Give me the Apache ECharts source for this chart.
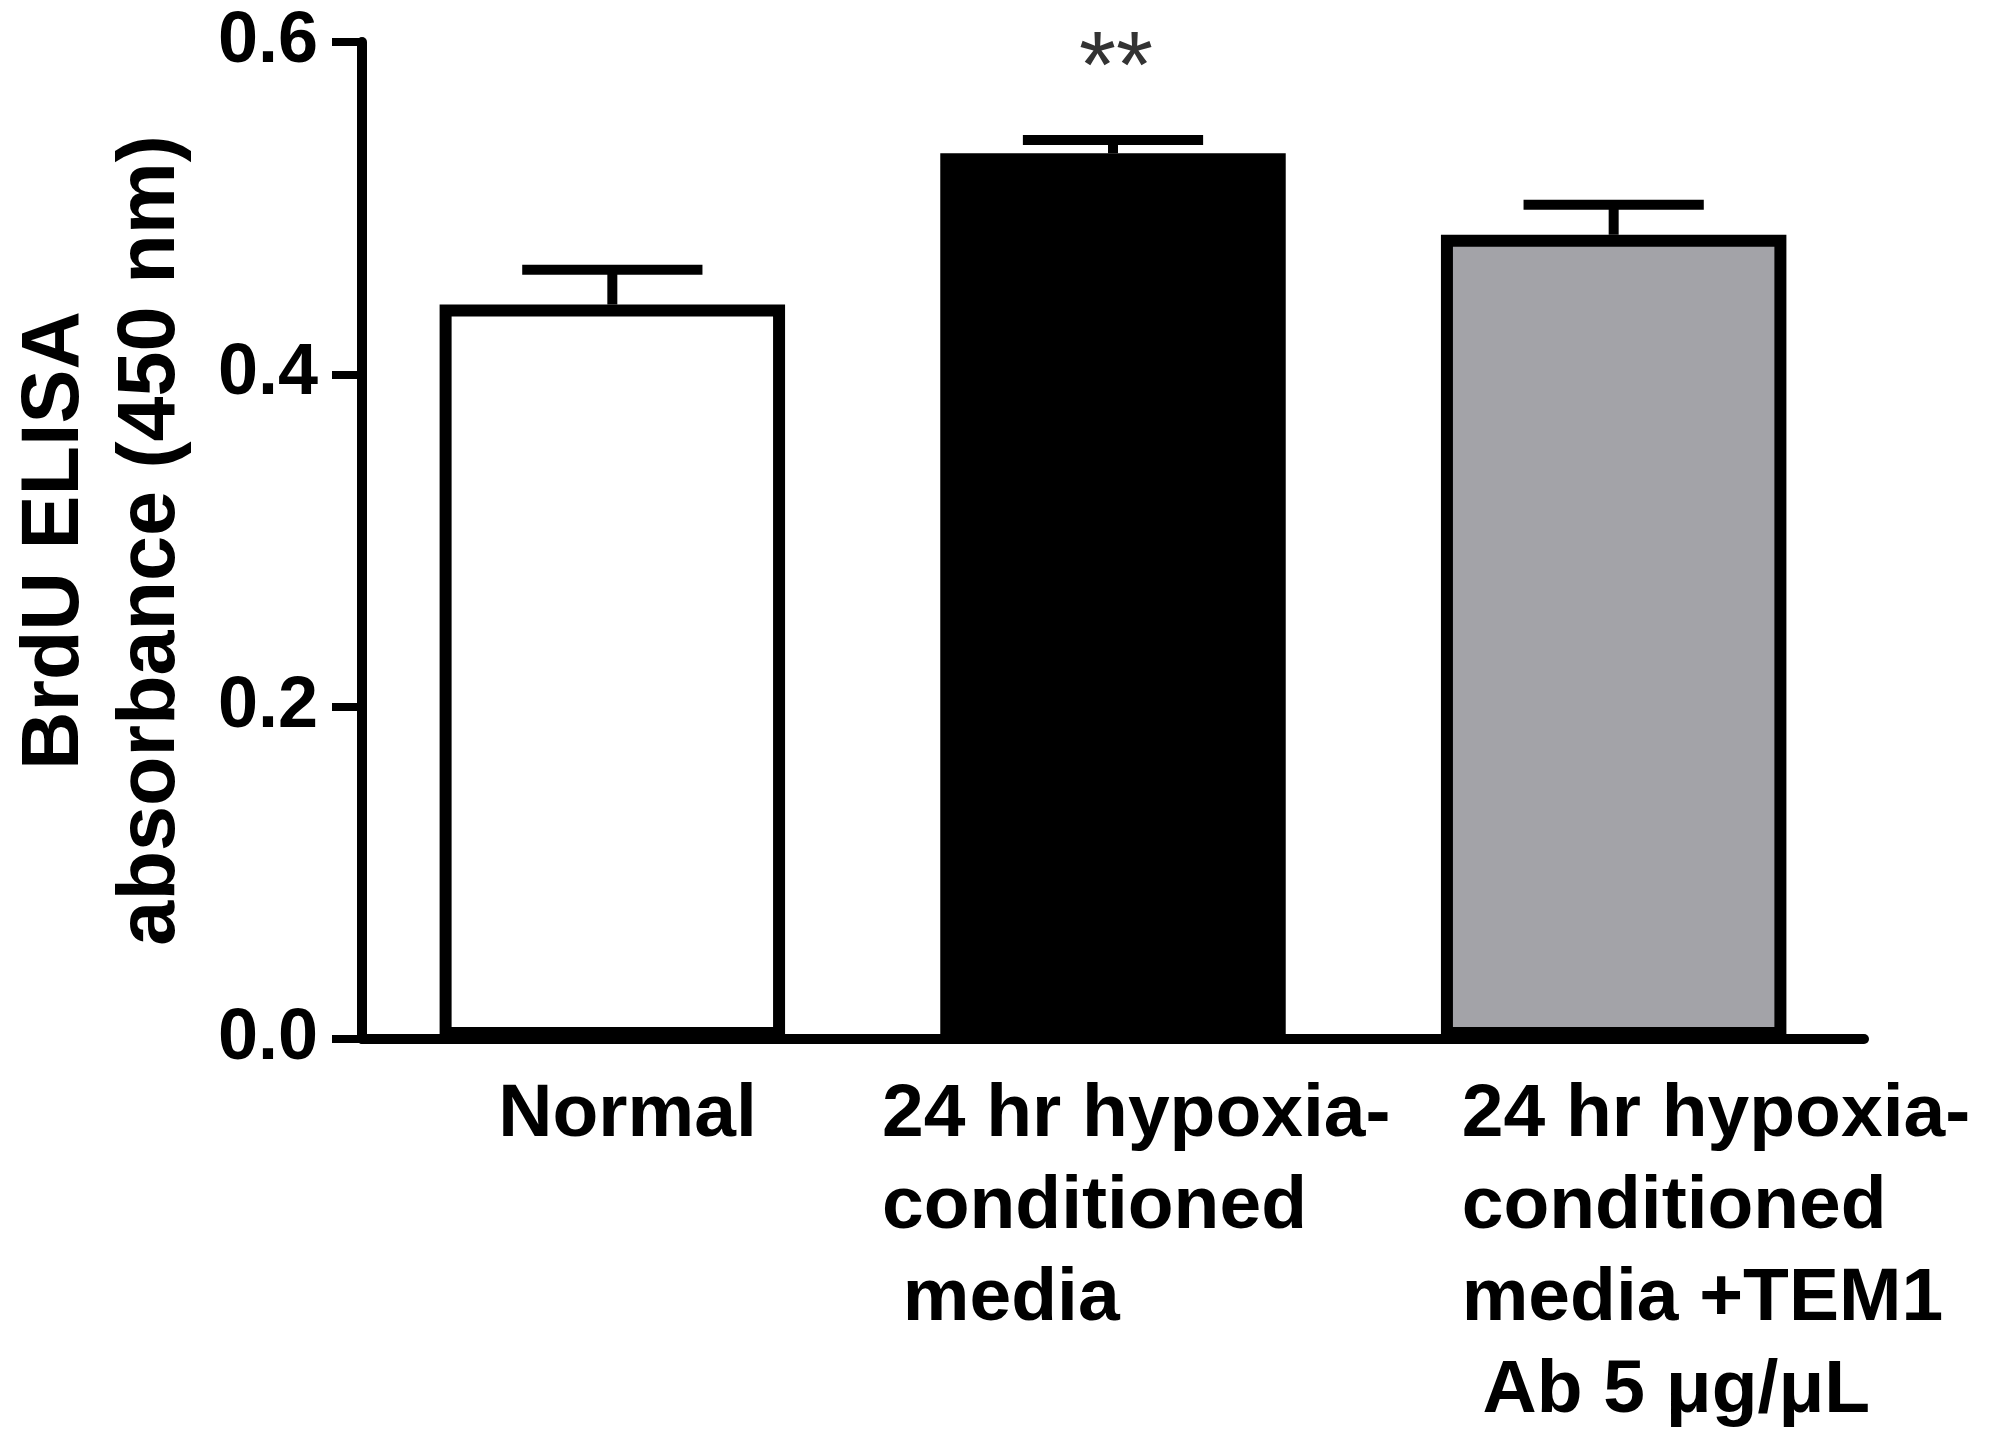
<!DOCTYPE html>
<html>
<head>
<meta charset="utf-8">
<title>BrdU ELISA</title>
<script src="https://cdn.jsdelivr.net/npm/echarts@6/dist/echarts.min.js"></script>
<style>
    html, body { margin: 0; padding: 0; background: #fff; }
    #chart { width: 1995px; height: 1433px; }
</style>
</head>
<body>
<div id="chart"></div>
<script>
// groups on the x axis
var categories = [
    "Normal",
    "24 hr hypoxia-\nconditioned\n media",
    "24 hr hypoxia-\nconditioned\nmedia +TEM1\n Ab 5 μg/μL"
];
// mean absorbance and SEM
var means = [0.442, 0.533, 0.484];
var sems = [0.021, 0.008, 0.018];
var sigMarks = ["", "**", ""];
var barFills = ["#ffffff", "#000000", "#a3a3a8"];

var FONT = "'Liberation Sans', Arial, Helvetica, sans-serif";

var myChart = echarts.init(document.getElementById("chart"));

function labelStyle(w){
    return {
        width: w,
        align: "left",
        fontFamily: FONT,
        fontWeight: "bold",
        fontSize: 75,
        lineHeight: 92,
        color: "#000"
    };
}

var barData = [];
for (var i = 0; i < means.length; i++) {
    barData.push({
        value: means[i],
        itemStyle: {
            color: barFills[i],
            borderColor: "#000",
            borderWidth: 12
        }
    });
}

var errData = [];
for (var j = 0; j < means.length; j++) {
    errData.push([j, means[j], sems[j]]);
}

function renderErr(params, api){
    var idx = api.value(0);
    var m = api.value(1);
    var e = api.value(2);
    var base = api.coord([idx, m]);
    var top = api.coord([idx, m + e]);
    var half = api.size([1, 0])[0] * 0.18;
    var kids = [
        {
            type: "line",
            shape: { x1: base[0], y1: base[1], x2: top[0], y2: top[1] },
            style: { stroke: "#000", lineWidth: 10 }
        },
        {
            type: "line",
            shape: { x1: top[0] - half, y1: top[1], x2: top[0] + half, y2: top[1] },
            style: { stroke: "#000", lineWidth: 10 }
        }
    ];
    var mark = sigMarks[params.dataIndex];
    if (mark) {
        kids.push({
            type: "text",
            x: top[0] + 3,
            y: top[1] - 69,
            style: {
                text: mark,
                fill: "#333",
                font: "normal 95px " + FONT,
                align: "center",
                verticalAlign: "middle"
            }
        });
    }
    return { type: "group", children: kids };
}

var option = {
    animation: false,
    backgroundColor: "#fff",
    grid: {
        left: 352,
        right: 131,
        top: 42,
        bottom: 394
    },
    xAxis: {
        type: "category",
        data: categories,
        boundaryGap: true,
        axisLine: { lineStyle: { color: "#000", width: 10 } },
        axisTick: {
            alignWithLabel: true,
            length: 30,
            lineStyle: { color: "#000", width: 5 }
        },
        axisLabel: {
            interval: 0,
            margin: 30,
            align: "center",
            verticalAlign: "top",
            formatter: function(value, index){
                var lines = value.split("\n");
                var out = [];
                for (var k = 0; k < lines.length; k++) {
                    out.push("{c" + index + "|" + lines[k] + "}");
                }
                return out.join("\n");
            },
            rich: {
                c0: labelStyle(228),
                c1: labelStyle(462),
                c2: labelStyle(304)
            }
        },
        splitLine: { show: false }
    },
    yAxis: {
        type: "value",
        min: 0,
        max: 0.6,
        interval: 0.2,
        name: "BrdU ELISA\nabsorbance (450 nm)",
        nameLocation: "middle",
        nameRotate: 90,
        nameGap: 162,
        nameTextStyle: {
            fontFamily: FONT,
            fontWeight: "bold",
            fontSize: 81,
            lineHeight: 96,
            color: "#000"
        },
        axisLine: { show: true, lineStyle: { color: "#000", width: 10 } },
        axisTick: {
            show: true,
            length: 30,
            lineStyle: { color: "#000", width: 8 }
        },
        axisLabel: {
            margin: 44,
            fontFamily: FONT,
            fontWeight: "bold",
            fontSize: 72,
            color: "#000",
            formatter: function(v){ return v.toFixed(1); }
        },
        splitLine: { show: false }
    },
    series: [
        {
            type: "bar",
            data: barData,
            barWidth: "69%",
            z: 2
        },
        {
            type: "custom",
            data: errData,
            encode: { x: 0, y: 1 },
            renderItem: renderErr,
            z: 3
        }
    ]
};

myChart.setOption(option);
window.onresize = myChart.resize;
</script>
</body>
</html>
